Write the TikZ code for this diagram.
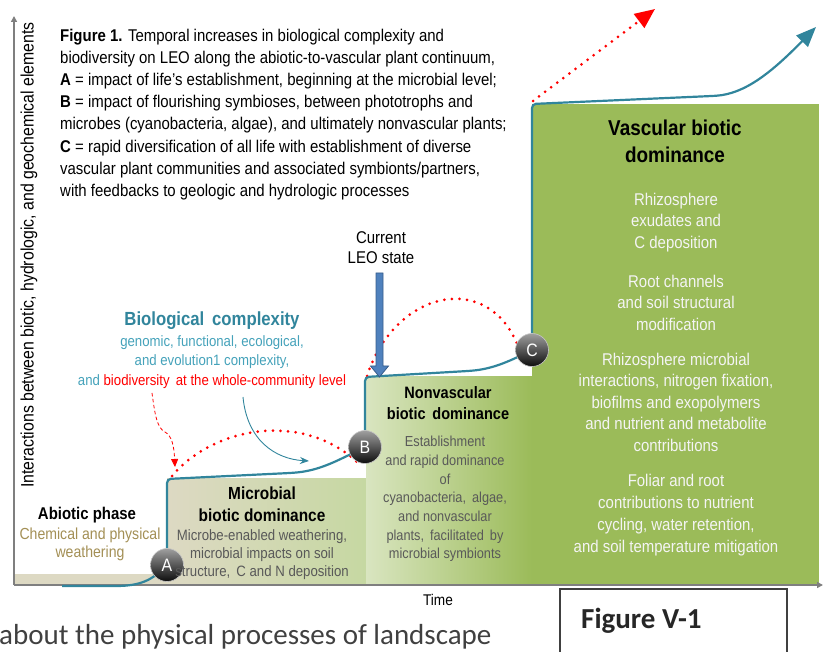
\documentclass[tikz,border=0pt]{standalone}
\usepackage{fontspec}
\setmainfont{Liberation Sans}[FakeStretch=0.88]
\newfontfamily\calibri{Carlito}
\usetikzlibrary{arrows.meta}
\definecolor{tealline}{HTML}{31859C}
\definecolor{teallight}{HTML}{45A2BA}
\definecolor{beigeC}{HTML}{DDD9C3}
\definecolor{lgreen}{HTML}{C6D8A2}
\definecolor{pgreen}{HTML}{D9E5C0}
\definecolor{vgreen}{HTML}{9BBB59}
\definecolor{khaki}{HTML}{A38F55}
\definecolor{bodygray}{HTML}{595959}
\definecolor{axisgray}{HTML}{7F7F7F}
\definecolor{arrowblue}{HTML}{4F81BD}
\definecolor{arrowblued}{HTML}{385D8A}
\definecolor{whitetext}{HTML}{F4F4F4}
\newcommand\myfs[2]{\fontsize{#1}{#2}\selectfont}
\tikzset{
  ball/.style={circle, minimum size=33pt, inner sep=0pt, top color=gray!75, bottom color=black!95, draw=gray!45, line width=0.6pt, text=white, font=\myfs{18}{18}},
  reddots/.style={red, line width=3pt, line cap=round, dash pattern=on 0pt off 7.6pt},
  txt/.style={inner sep=0pt, align=center},
  axisline/.style={axisgray, line width=1.8pt, -{Triangle[length=6pt,width=6pt]}},
}
\begin{document}
\begin{tikzpicture}[x=1pt,y=-1pt]
\useasboundingbox (0,0) rectangle (823,652);
\clip (0,0) rectangle (823,652);
% backgrounds
\fill[beigeC] (14,574) rectangle (167,585);
\shade[left color=beigeC, right color=lgreen] (167,479) rectangle (366,585);
\shade[left color=pgreen, right color=vgreen] (366,377) rectangle (532,585);
\fill[vgreen] (532,104) rectangle (819,585);
% axes
\coordinate (O) at (14,585);
\coordinate (Ytop) at (14,16);
\coordinate (Xend) at (823,585);
\draw[axisline] (O) -- (Ytop);
\draw[axisline] (O) -- (Xend);
% key points
\coordinate (pA) at (167,565);
\coordinate (pB) at (365,447);
\coordinate (pC) at (532,350);
\coordinate (t0) at (62,586);
\coordinate (tealTip) at (816,27);
\coordinate (r1s) at (172,476);
\coordinate (r1e) at (358,463);
\coordinate (r2s) at (367,376);
\coordinate (r2e) at (518,346);
\coordinate (r3s) at (533,101);
\coordinate (redTip) at (655,9);
% red dotted curves
\draw[reddots] (r1s) .. controls (215,425) and (305,412) .. (r1e);
\draw[reddots] (r2s) .. controls (395,290) and (488,270) .. (r2e);
\draw[reddots, -{Triangle[length=20pt,width=17pt]}] (r3s) -- (redTip);
% teal main curve
\draw[tealline, line width=2.2pt, rounded corners=4pt, -{Triangle[length=20pt,width=16pt]}]
  (t0) -- (112,586) .. controls (140,586) and (152,580) .. (pA) -- (167,479) -- (290,473)
  .. controls (318,471) and (335,462) .. (pB) -- (365,377) -- (468,371)
  .. controls (492,369) and (508,362) .. (pC) -- (532,104) -- (712,96)
  .. controls (745,94) and (772,72) .. (tealTip);
% ball markers
\node[ball] (A) at (pA) {A};
\node[ball] (B) at (pB) {B};
\node[ball] (C) at (pC) {C};
% caption
\node[txt, anchor=west, align=left, font=\myfs{17}{22.1}] (cap) at (60,114.5)
 {\textbf{Figure 1.} Temporal increases in biological complexity and\\
  biodiversity on LEO along the abiotic-to-vascular plant continuum,\\
  \textbf{A} = impact of life’s establishment, beginning at the microbial level;\\
  \textbf{B} = impact of flourishing symbioses, between phototrophs and\\
  microbes (cyanobacteria, algae), and ultimately nonvascular plants;\\
  \textbf{C} = rapid diversification of all life with establishment of diverse\\
  vascular plant communities and associated symbionts/partners,\\
  with feedbacks to geologic and hydrologic processes};
% y axis label
\node[txt, rotate=90, font=\myfs{18}{18}] (ylab) at (29,255)
 {Interactions between biotic, hydrologic, and geochemical elements};
% x axis label
\node[txt, font=\myfs{15.5}{16}] (time) at (438,600) {Time};
% biological complexity
\node[txt, text=tealline, font=\bfseries\myfs{19}{20}] (bio) at (212,321) {Biological\, complexity};
\node[txt, text=teallight, font=\myfs{15}{19.3}] (biosub) at (212,362)
 {genomic, functional, ecological,\\ and evolution1 complexity,\\ and \textcolor{red}{biodiversity\, at the whole-community level}};
\coordinate (dashS) at (152,393);
\coordinate (dashE) at (175,467);
\draw[red, line width=0.8pt, dash pattern=on 3.5pt off 2.5pt, -{Triangle[length=8pt,width=7pt]}]
  (dashS) .. controls (155,415) and (157,428) .. (165,432) .. controls (172,436) and (174,446) .. (dashE);
\coordinate (tarS) at (243,397);
\coordinate (tarE) at (309,461);
\draw[tealline, line width=0.9pt, -{Stealth[length=9pt,width=7pt]}]
  (tarS) .. controls (247,440) and (275,459) .. (tarE);
% current LEO state
\node[txt, font=\myfs{17}{20}] (cur) at (381,248) {Current\\ LEO state};
\draw[fill=arrowblue, draw=arrowblued, line width=0.8pt]
  (376,273) -- (383,273) -- (383,366) -- (388.5,366) -- (379.5,377) -- (370.5,366) -- (376,366) -- cycle;
% abiotic
\node[txt, font=\bfseries\myfs{17}{18}] (abt) at (87,515) {Abiotic phase};
\node[txt, text=khaki, font=\myfs{16}{18}] (abb) at (90,544) {Chemical and physical\\ weathering};
% microbial
\node[txt, font=\bfseries\myfs{17.5}{22}] (mit) at (262,504) {Microbial\\ biotic dominance};
\node[txt, text=bodygray, font=\myfs{15}{18}] (mib) at (262,555)
 {Microbe-enabled weathering,\\ microbial impacts on soil\\ structure,\, C and N deposition};
% nonvascular
\node[txt, font=\bfseries\myfs{16.5}{21}] (nvt) at (448,403.5) {Nonvascular\\ biotic\, dominance};
\node[txt, text=bodygray, font=\myfs{14.5}{18.67}] (nvb) at (445,499)
 {Establishment\\ and rapid dominance\\ of\\ cyanobacteria,\, algae,\\ and nonvascular\\ plants,\, facilitated\, by\\ microbial symbionts};
% vascular
\node[txt, font=\bfseries\myfs{21.5}{27}] (vt) at (675,141.5) {Vascular biotic\\ dominance};
\node[txt, text=whitetext, font=\myfs{17}{21.5}] (vp1) at (676,222.5) {Rhizosphere\\ exudates and\\ C deposition};
\node[txt, text=whitetext, font=\myfs{17}{21.5}] (vp2) at (676,302.5) {Root channels\\ and soil structural\\ modification};
\node[txt, text=whitetext, font=\myfs{17}{21.5}] (vp3) at (676,402) {Rhizosphere microbial\\ interactions, nitrogen fixation,\\ biofilms and exopolymers\\ and nutrient and metabolite\\ contributions};
\node[txt, text=whitetext, font=\myfs{17}{22}] (vp4) at (676,515) {Foliar and root\\ contributions to nutrient\\ cycling, water retention,\\ and soil temperature mitigation};
% figure box and page text
\draw[black!75, line width=1.5pt] (560,589) rectangle (787,670);
\node[inner sep=0pt, anchor=base west, text=black!85, font=\calibri\bfseries\myfs{29}{29}] (figv) at (581,628) {Figure V-1};
\node[inner sep=0pt, anchor=base west, text=black!75, font=\calibri\myfs{29}{29}] (bt) at (-1,644.5) {about the physical processes of landscape};
\end{tikzpicture}
\end{document}
